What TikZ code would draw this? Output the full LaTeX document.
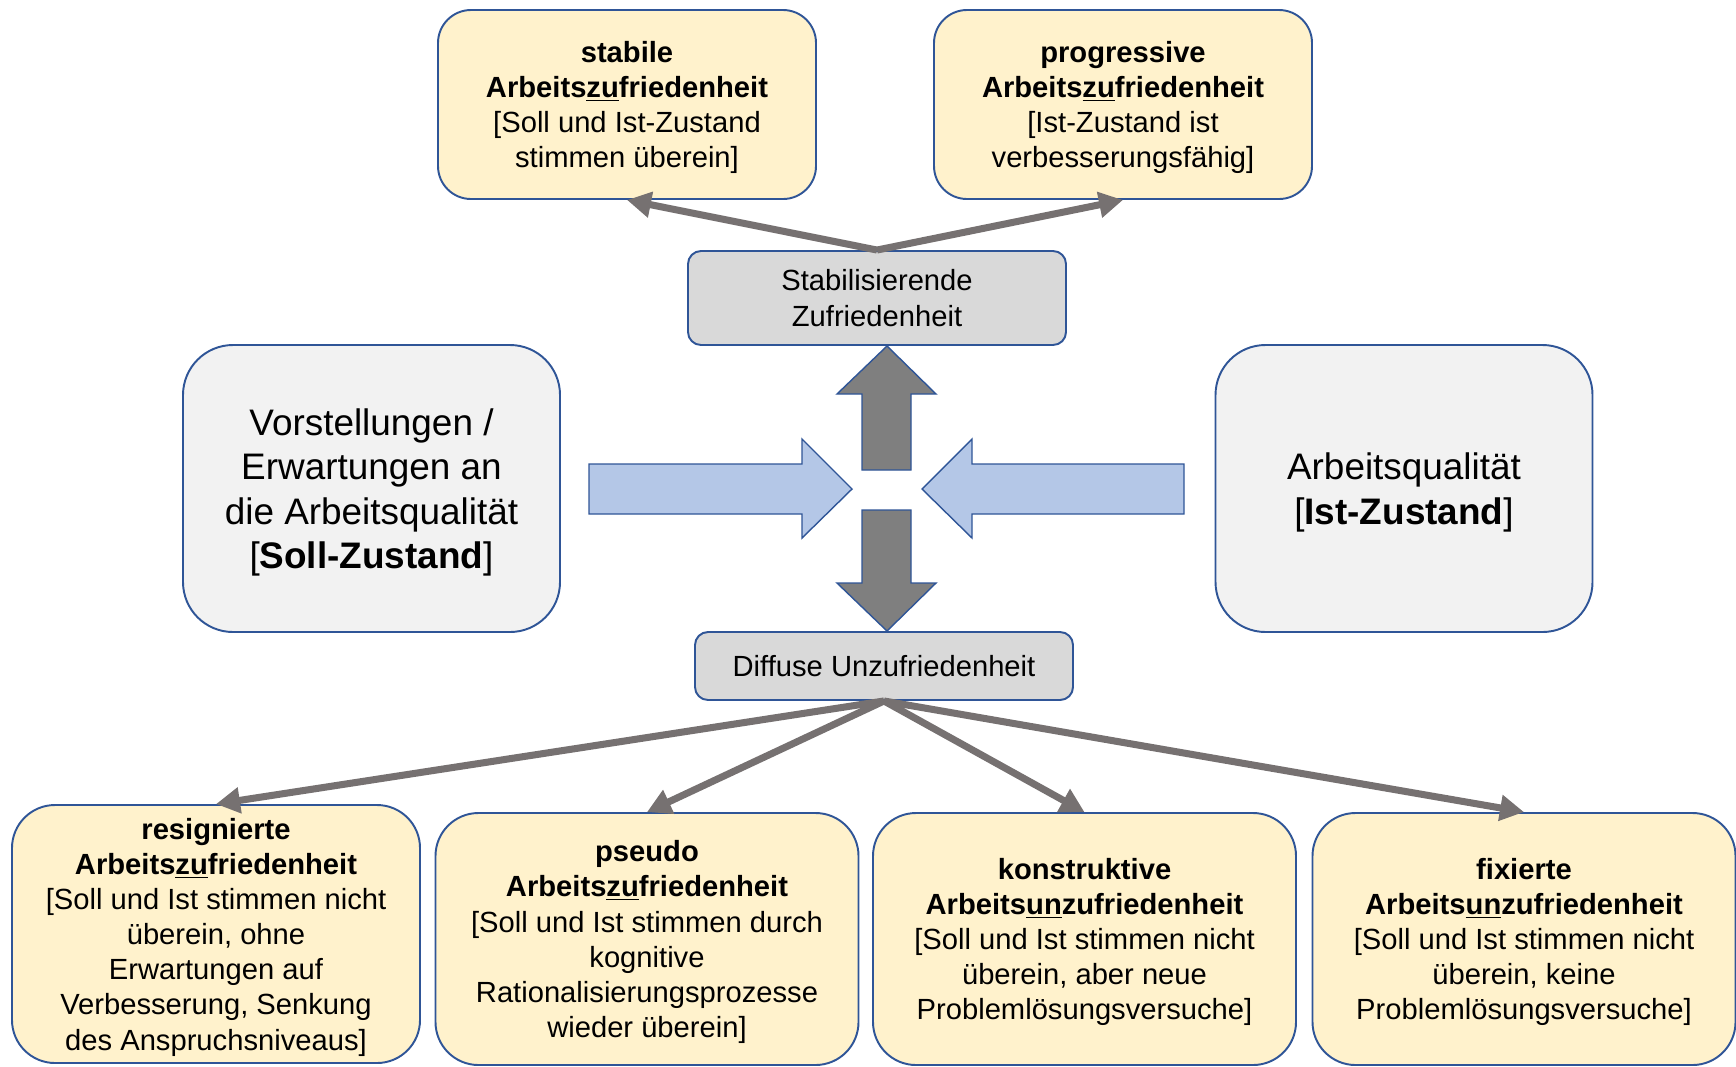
\documentclass[tikz,border=0pt]{standalone}
\usepackage{fontspec}
\setmainfont{Liberation Sans}
\usepackage{tikz}
\usetikzlibrary{arrows.meta}
\definecolor{boxblue}{HTML}{2F5597}
\definecolor{softyellow}{HTML}{FFF2CC}
\definecolor{lightgrey}{HTML}{D9D9D9}
\definecolor{palegrey}{HTML}{F2F2F2}
\definecolor{arrowblue}{HTML}{B4C7E7}
\definecolor{arrowgrey}{HTML}{7F7F7F}
\definecolor{linegrey}{HTML}{767171}

\begin{document}
\begin{tikzpicture}[
    x=0.2mm, y=-0.2mm,
    font=\fontsize{16.6}{20}\selectfont,
    result/.style={draw=boxblue,line width=1.1pt,fill=softyellow,align=center,
      inner sep=0pt,text depth=-2.7pt},
    topres/.style={result,rounded corners=6.6mm,minimum width=75.6mm,
      minimum height=37.8mm},
    lowres/.style={result,rounded corners=8.6mm,minimum width=84.6mm,
      minimum height=50.4mm},
    state/.style={draw=boxblue,line width=1.1pt,fill=lightgrey,rounded corners=2.6mm,
      minimum width=75.6mm,align=center,inner sep=0pt},
    pole/.style={draw=boxblue,line width=1.1pt,fill=palegrey,rounded corners=10mm,
      minimum width=75.4mm,minimum height=57.4mm,align=center,inner sep=0pt,
      text depth=-1.8pt,font=\fontsize{21}{25.2}\selectfont},
    flow/.style={-{Triangle[length=4.8mm,width=5mm]},line width=4pt,linegrey},
    blockin/.style={draw=boxblue,line width=0.8pt,fill=arrowblue},
    blockout/.style={draw=boxblue,line width=0.8pt,fill=arrowgrey}
  ]
    \useasboundingbox (0,0) rectangle (1736,1066);

    % upper results
    \node[topres] (stabile) at (627,104.5)
      {\textbf{stabile}\\\textbf{Arbeits\underline{zu}friedenheit}\\
       {[}Soll und Ist-Zustand\\stimmen überein]};
    \node[topres] (progressive) at (1123,104.5)
      {\textbf{progressive}\\\textbf{Arbeits\underline{zu}friedenheit}\\
       {[}Ist-Zustand ist\\verbesserungsfähig]};

    % middle
    \node[state,minimum height=18.8mm] (stab) at (877,298)
      {Stabilisierende\\Zufriedenheit};
    \node[pole] (soll) at (371.5,488.5)
      {Vorstellungen /\\Erwartungen an\\die Arbeitsqualität\\{[}\textbf{Soll-Zustand}]};
    \node[pole] (ist) at (1404,488.5)
      {Arbeitsqualität\\{[}\textbf{Ist-Zustand}]};
    \node[state,minimum height=13.6mm] (diffuse) at (884,666)
      {Diffuse Unzufriedenheit};

    \draw[blockin] (589,464) -- (802,464) -- (802,439) -- (852,489) -- (802,538)
      -- (802,514) -- (589,514) -- cycle;
    \draw[blockin] (1184,464) -- (972,464) -- (972,439) -- (922,489) -- (972,538)
      -- (972,514) -- (1184,514) -- cycle;
    \draw[blockout] (862,470) -- (862,394) -- (837,394) -- (887,346) -- (936,394)
      -- (911,394) -- (911,470) -- cycle;
    \draw[blockout] (862,510) -- (862,583) -- (837,583) -- (887,631) -- (936,583)
      -- (911,583) -- (911,510) -- cycle;

    % lower results
    \node[lowres,minimum width=81.6mm,minimum height=51.6mm] (resig) at (216,934)
      {\textbf{resignierte}\\\textbf{Arbeits\underline{zu}friedenheit}\\
       {[}Soll und Ist stimmen nicht\\überein, ohne\\Erwartungen auf\\
       Verbesserung, Senkung\\des Anspruchsniveaus]};
    \node[lowres] (pseudo) at (647,939)
      {\textbf{pseudo}\\\textbf{Arbeits\underline{zu}friedenheit}\\
       {[}Soll und Ist stimmen durch\\kognitive\\Rationalisierungsprozesse\\
       wieder überein]};
    \node[lowres] (konstr) at (1084.5,939)
      {\textbf{konstruktive}\\\textbf{Arbeits\underline{un}zufriedenheit}\\
       {[}Soll und Ist stimmen nicht\\überein, aber neue\\Problemlösungsversuche]};
    \node[lowres] (fixiert) at (1524,939)
      {\textbf{fixierte}\\\textbf{Arbeits\underline{un}zufriedenheit}\\
       {[}Soll und Ist stimmen nicht\\überein, keine\\Problemlösungsversuche]};

    \draw[flow] (stab.north) -- (stabile.south);
    \draw[flow] (stab.north) -- (progressive.south);
    \foreach \target in {resig,pseudo,konstr,fixiert}
      \draw[flow] (diffuse.south) -- (\target.north);
\end{tikzpicture}
\end{document}
